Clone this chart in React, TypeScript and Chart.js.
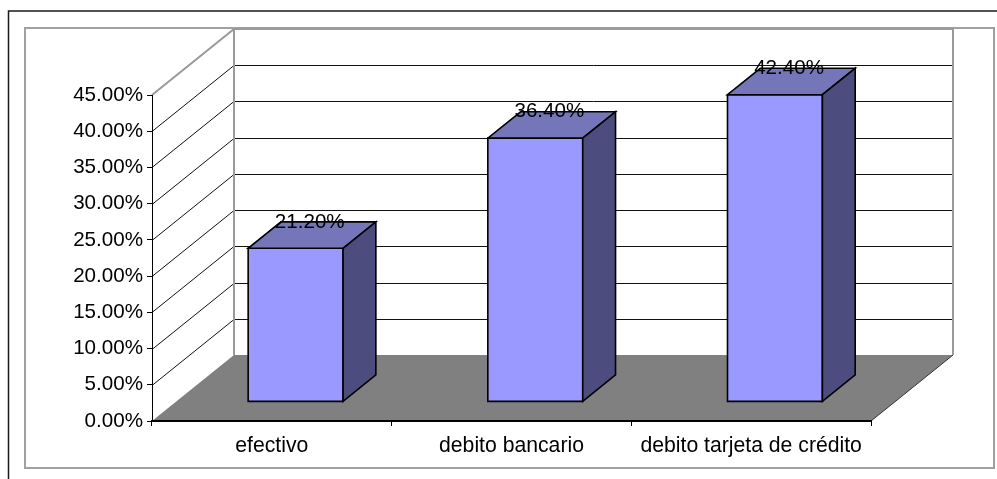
import { useEffect, useRef } from "react";
import { Chart, registerables } from "chart.js";

Chart.register(...registerables);

// Payment methods and their share of responses (percent)
const categories = ["efectivo", "debito bancario", "debito tarjeta de crédito"];
const shares = [21.2, 36.4, 42.4];

// Value axis range
const axisMax = 45;
const axisStep = 5;

const FONT_FAMILY = '"Liberation Sans", Arial, Helvetica, sans-serif';

// Receding depth of the 3D floor (pixels, right and up)
const DEPTH_X = 82;
const DEPTH_Y = -66;
// Bars sit between these fractions of the floor depth
const BAR_FRONT = 0.29;
const BAR_DEPTH = 0.4;

const FACE_FRONT = "#9999FF";
const FACE_TOP = "#7575BA";
const FACE_SIDE = "#4C4C7F";
const FLOOR = "#808080";
const WALL_EDGE = "#9a9a9a";

const fmtPct = (v: number) => `${v.toFixed(2)}%`;

function line(ctx: CanvasRenderingContext2D, x1: number, y1: number, x2: number, y2: number) {
  ctx.beginPath();
  ctx.moveTo(x1, y1);
  ctx.lineTo(x2, y2);
  ctx.stroke();
}

function poly(ctx: CanvasRenderingContext2D, pts: number[][], fill: string | null, stroke: string | null, lw = 1) {
  ctx.beginPath();
  ctx.moveTo(pts[0][0], pts[0][1]);
  for (let i = 1; i < pts.length; i++) ctx.lineTo(pts[i][0], pts[i][1]);
  ctx.closePath();
  if (fill) {
    ctx.fillStyle = fill;
    ctx.fill();
  }
  if (stroke) {
    ctx.strokeStyle = stroke;
    ctx.lineWidth = lw;
    ctx.stroke();
  }
}

// Frame, floor, back wall and side wall drawn behind the axes
const wallsPlugin = {
  id: "walls3d",
  beforeDraw(chart: any) {
    const ctx: CanvasRenderingContext2D = chart.ctx;
    const ys = chart.scales.y;
    const area = chart.chartArea;
    const L = area.left;
    const R = area.right;
    const B = ys.getPixelForValue(0);
    const T = ys.getPixelForValue(axisMax);
    const dx = DEPTH_X;
    const dy = DEPTH_Y;

    ctx.save();
    ctx.fillStyle = "#ffffff";
    ctx.fillRect(0, 0, chart.width, chart.height);

    // outer border
    ctx.strokeStyle = "#1a1a1a";
    ctx.lineWidth = 1.5;
    ctx.beginPath();
    ctx.moveTo(8.5, chart.height);
    ctx.lineTo(8.5, 11);
    ctx.lineTo(chart.width, 11);
    ctx.stroke();

    // chart area border
    ctx.strokeStyle = "#a0a0a0";
    ctx.lineWidth = 2;
    ctx.strokeRect(25, 28, 969, 440);

    // floor
    poly(ctx, [[L, B], [R, B], [R + dx, B + dy], [L + dx, B + dy]], FLOOR, null);
    ctx.strokeStyle = "#333333";
    ctx.lineWidth = 1;
    line(ctx, R, B, R + dx, B + dy);

    // grid lines on back wall and side wall
    ctx.strokeStyle = "#111111";
    ctx.lineWidth = 1;
    for (const t of ys.ticks) {
      const v = t.value;
      if (v <= 0 || v >= axisMax) continue;
      const py = Math.round(ys.getPixelForValue(v)) + 0.5;
      line(ctx, L + dx, py + dy, R + dx, py + dy);
      line(ctx, L, py, L + dx, py + dy);
    }

    // wall edges
    ctx.strokeStyle = WALL_EDGE;
    ctx.lineWidth = 2;
    ctx.beginPath();
    ctx.moveTo(L, T);
    ctx.lineTo(L + dx, T + dy);
    ctx.lineTo(R + dx, T + dy);
    ctx.lineTo(R + dx, B + dy);
    ctx.stroke();
    line(ctx, L + dx, T + dy, L + dx, B + dy);
    ctx.restore();
  },
};

// Bars as 3D boxes with their value printed above
const boxesPlugin = {
  id: "boxes3d",
  afterDatasetsDraw(chart: any) {
    const ctx: CanvasRenderingContext2D = chart.ctx;
    const meta = chart.getDatasetMeta(0);
    const ox = DEPTH_X * BAR_FRONT;
    const oy = DEPTH_Y * BAR_FRONT;
    const bx = DEPTH_X * BAR_DEPTH;
    const by = DEPTH_Y * BAR_DEPTH;
    ctx.save();
    ctx.lineJoin = "miter";
    meta.data.forEach((el: any, i: number) => {
      const p = el.getProps(["x", "y", "base", "width"], true);
      const l = p.x - p.width / 2 + ox;
      const r = p.x + p.width / 2 + ox;
      const t = p.y + oy;
      const b = p.base + oy;
      poly(ctx, [[l, t], [r, t], [r, b], [l, b]], FACE_FRONT, "#000", 1.6);
      poly(ctx, [[l, t], [r, t], [r + bx, t + by], [l + bx, t + by]], FACE_TOP, "#000", 1.6);
      poly(ctx, [[r, t], [r + bx, t + by], [r + bx, b + by], [r, b]], FACE_SIDE, "#000", 1.6);

      ctx.fillStyle = "#000";
      ctx.font = `20.6px ${FONT_FAMILY}`;
      ctx.textAlign = "center";
      ctx.textBaseline = "middle";
      ctx.fillText(fmtPct(shares[i]), p.x + ox + bx * 0.43, t + by);
    });
    ctx.restore();
  },
};

export default function App() {
  const canvasRef = useRef<HTMLCanvasElement | null>(null);

  useEffect(() => {
    if (!canvasRef.current) return;
    const chart = new Chart(canvasRef.current, {
      type: "bar",
      data: {
        labels: categories,
        datasets: [
          {
            data: shares,
            backgroundColor: "rgba(0,0,0,0)",
            borderWidth: 0,
            categoryPercentage: 1,
            barPercentage: 0.396,
          },
        ],
      },
      options: {
        animation: false,
        responsive: false,
        devicePixelRatio: 1,
        events: [],
        layout: { padding: { top: 95, right: 126, left: 0, bottom: 0 } },
        plugins: {
          legend: { display: false },
          tooltip: { enabled: false },
        },
        scales: {
          x: {
            offset: true,
            grid: {
              offset: true,
              drawOnChartArea: false,
              drawTicks: true,
              tickLength: 5,
              color: "#000",
            },
            border: { display: true, color: "#000", width: 2 },
            ticks: {
              color: "#000",
              padding: 7,
              maxRotation: 0,
              font: { family: FONT_FAMILY, size: 21.2 },
            },
            afterFit: (s: any) => {
              s.height = 58;
            },
          },
          y: {
            min: 0,
            max: axisMax,
            grid: {
              drawOnChartArea: false,
              drawTicks: true,
              tickLength: 5,
              color: "#000",
            },
            border: { display: true, color: "#000", width: 1 },
            ticks: {
              stepSize: axisStep,
              color: "#000",
              padding: 4,
              font: { family: FONT_FAMILY, size: 20.6 },
              callback: (v: any) => fmtPct(Number(v)),
            },
            afterFit: (s: any) => {
              s.width = 152;
            },
          },
        },
      },
      plugins: [wallsPlugin, boxesPlugin],
    });
    return () => chart.destroy();
  }, []);

  return (
    <div style={{ position: "fixed", left: 0, top: 0, width: 997, height: 479, background: "#fff" }}>
      <canvas ref={canvasRef} width={997} height={479} style={{ width: 997, height: 479, display: "block" }} />
    </div>
  );
}
